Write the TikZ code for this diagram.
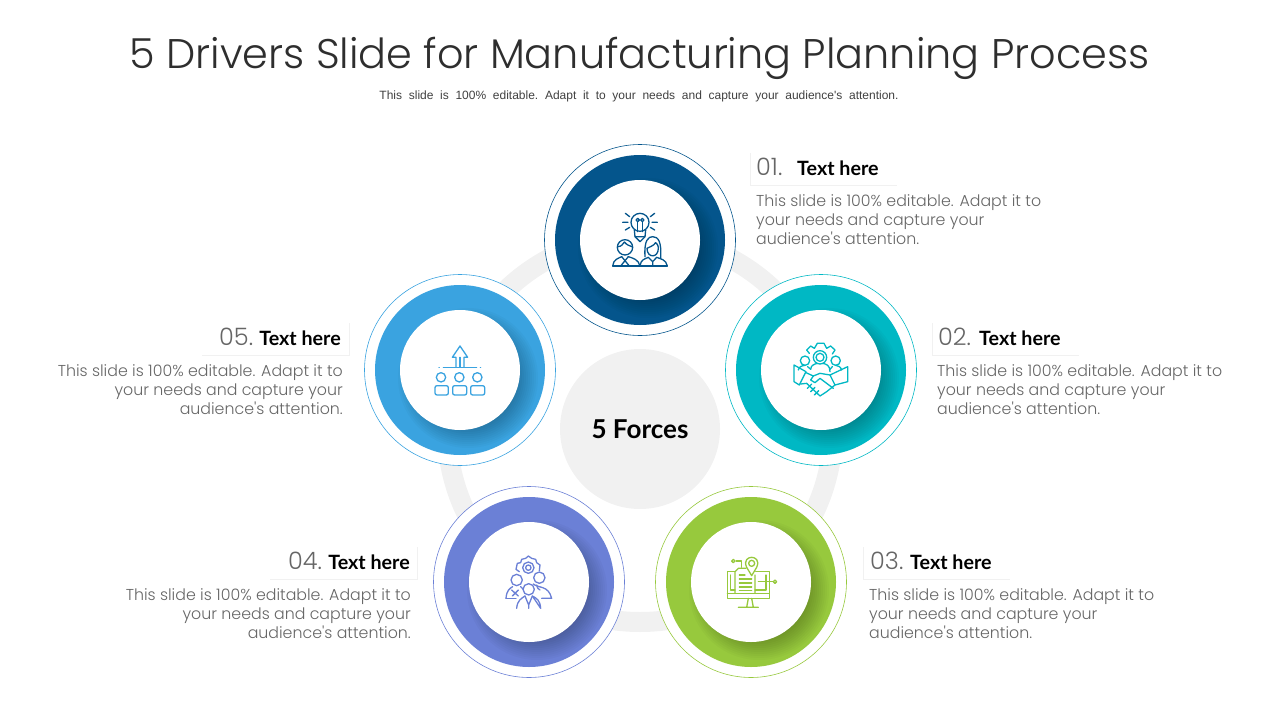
\documentclass[tikz,border=0pt]{standalone}
\usepackage{fontspec}
\setmainfont{Poppins Light}[Ligatures=TeXOff]
\newfontfamily\subfont{Liberation Sans}
\newfontfamily\headfont{Lato}
\newcommand\widewords{\frenchspacing\spaceskip 6.7pt\relax}
\definecolor{navy}{HTML}{04558C}
\definecolor{teal}{HTML}{00B8C4}
\definecolor{leaf}{HTML}{97C93D}
\definecolor{iris}{HTML}{6B80D6}
\definecolor{sky}{HTML}{3AA3E0}
\definecolor{softgrey}{HTML}{F1F1F1}
\definecolor{bodygrey}{HTML}{666666}
\tikzset{
  halo/.style={circle,draw=#1,line width=0.6pt,fill=white,minimum size=191pt,inner sep=0pt},
  band/.style={circle,fill=#1,minimum size=170pt,inner sep=0pt},
  core/.style={circle,fill=white,minimum size=120pt,inner sep=0pt},
  icon/.style={draw=#1,line width=1.3pt,line join=round,line cap=round,fill=none},
  numtext/.style={font=\fontsize{24}{26}\selectfont,text=bodygrey,inner sep=0pt},
  headtext/.style={font=\headfont\bfseries\fontsize{19.7}{22}\selectfont,text=black,inner sep=0pt},
  bodytext/.style={font=\fontsize{15.8}{19.2}\selectfont,text=bodygrey,inner sep=0pt},
  tagbox/.style={draw=softgrey,line width=0.7pt},
}
\begin{document}
\begin{tikzpicture}[x=1pt,y=-1pt]
\useasboundingbox (0,0) rectangle (1280,720);
\node(title) at (639.5,58) [font=\fontsize{41.4}{48}\selectfont,text=black!82] {5 Drivers Slide for Manufacturing Planning Process};
\node(subtitle) at (639,96) [font=\subfont\fontsize{12}{14}\selectfont\widewords,text=black!75] {This slide is 100\% editable. Adapt it to your needs and capture your audience's attention.};
% backdrop
\node(track) at (640,429) [circle,draw=softgrey,line width=20pt,minimum size=386pt,inner sep=0pt] {};
\node(hub) at (640,429) [circle,fill=softgrey,minimum size=160pt,inner sep=0pt,font=\headfont\bfseries\fontsize{26}{28}\selectfont] {5 Forces};
% rings
\node(halo1) at (640,240) [halo=navy] {};
\node(halo2) at (821,370) [halo=teal] {};
\node(halo3) at (751,582) [halo=leaf] {};
\node(halo4) at (529,582) [halo=iris] {};
\node(halo5) at (460,370) [halo=sky] {};
\node(band1) at (640,240) [band=navy] {};
\node(band2) at (821,370) [band=teal] {};
\node(band3) at (751,582) [band=leaf] {};
\node(band4) at (529,582) [band=iris] {};
\node(band5) at (460,370) [band=sky] {};
\foreach \cx/\cy in {640/240,821/370,751/582,529/582,460/370} {
  \begin{scope}
    \clip (\cx,\cy) circle (85);
    \foreach \r in {50,52,...,70} \fill[black,opacity=0.025] (\cx+8,\cy+8) circle (\r);
  \end{scope}
}
\node(core1) at (640,240) [core] {};
\node(core2) at (821,370) [core] {};
\node(core3) at (751,582) [core] {};
\node(core4) at (529,582) [core] {};
\node(core5) at (460,370) [core] {};
% icon 1
\begin{scope}[shift={(590,190)},scale=1/3,icon=navy]
\draw (150,97) circle (27);
\draw (133,120) -- (135,140) -- (165,140) -- (167,120);
\draw (135,140) -- (150,155) -- (165,140);
\draw (143,125) -- (143,95) (157,125) -- (157,95);
\draw (143,90) circle (5) (157,90) circle (5);
\draw (98,97) -- (114,97) (186,97) -- (202,97) (106,70) -- (119,80) (194,70) -- (181,80) (106,120) -- (119,112) (194,120) -- (181,112);
\draw (68,228) -- (232,228);
\draw (68,228) .. controls (70,208) and (85,205) .. (95,200) (115,200) .. controls (130,205) and (145,208) .. (150,228);
\draw (105,172) circle (23);
\draw (84,170) .. controls (95,170) and (100,160) .. (103,156) .. controls (110,165) and (120,168) .. (126,170);
\draw (95,200) -- (105,212) -- (115,200) (105,212) -- (92,228) (105,212) -- (118,228);
\draw (150,228) .. controls (152,208) and (165,207) .. (175,202) (200,202) .. controls (212,207) and (228,208) .. (232,228);
\draw (165,200) .. controls (162,150) and (175,140) .. (188,140) .. controls (205,140) and (215,155) .. (212,205);
\draw (171,175) .. controls (171,205) and (205,205) .. (205,175) .. controls (205,165) and (200,160) .. (197,158) .. controls (190,168) and (180,170) .. (171,175);
\draw (175,202) -- (188,215) -- (200,202) (188,215) -- (188,228);
\end{scope}
% icon 2
\begin{scope}[shift={(770,320)},scale=1/3,icon=teal]
\draw (118,100) -- (110,90) -- (122,78) -- (133,85) -- (142,70) -- (162,70) -- (170,85) -- (182,78) -- (195,90) -- (187,102);
\draw (150,112) circle (20);
\draw (150,112) circle (12);
\draw (122,148) .. controls (122,135) and (135,132) .. (142,130) (158,130) .. controls (168,132) and (180,135) .. (180,155);
\draw (105,122) circle (14) (197,122) circle (14);
\draw (85,150) .. controls (87,140) and (95,137) .. (105,136) (122,148) -- (113,140);
\draw (215,150) .. controls (212,140) and (205,137) .. (197,136) (180,148) -- (187,140);
\draw (72,135) -- (108,155) -- (88,195) -- (72,185) -- cycle;
\draw (233,140) -- (233,185) -- (195,195) -- (180,165) -- cycle;
\draw (108,158) -- (130,168) -- (150,160) -- (180,165);
\draw (92,192) -- (110,190) -- (150,228) -- (170,215) -- (195,195);
\draw (130,168) -- (122,180) -- (135,188) -- (150,175) -- (190,205);
\draw (112,205) -- (125,192) (122,215) -- (135,202) (133,225) -- (146,212);
\end{scope}
% icon 3
\begin{scope}[shift={(700,530)},scale=1/3,icon=leaf]
\draw (105,125) -- (82,125) -- (82,205) -- (208,205) -- (208,125) -- (167,125);
\draw (82,190) -- (208,190);
\draw (92,135) -- (92,180) -- (105,180) (198,135) -- (198,180) -- (165,180);
\draw (145,205) -- (140,232) (155,205) -- (160,232) (115,232) -- (175,232);
\draw (105,190) -- (105,125) -- (115,115) -- (138,115) (165,135) -- (165,190);
\draw (118,135) -- (135,135) (118,147) -- (155,147) (118,159) -- (155,159) (118,171) -- (155,171) (118,182) -- (155,182);
\draw (140,112) .. controls (130,90) and (145,82) .. (155,82) .. controls (165,82) and (180,90) .. (170,112) -- (155,137) -- cycle;
\draw (155,100) circle (9);
\draw (100,93) circle (5);
\draw (108,93) -- (125,93) -- (125,112);
\draw (225,155) circle (5);
\draw (175,155) -- (219,155);
\end{scope}
% icon 4
\begin{scope}[shift={(480,530)},scale=1/3,icon=iris]
\draw (118,125) -- (108,118) -- (112,100) -- (122,98) -- (125,88) -- (137,85) -- (145,78) -- (155,85) -- (167,88) -- (170,98) -- (180,105) -- (178,122);
\draw (145,113) circle (17) (145,113) circle (8);
\draw (110,150) circle (17) (178,143) circle (17) (146,178) circle (17);
\draw (78,205) .. controls (80,180) and (90,175) .. (98,170) (122,170) .. controls (125,172) and (128,175) .. (130,178);
\draw (78,205) -- (108,205);
\draw (95,180) -- (115,198) (115,180) -- (97,198);
\draw (160,162) .. controls (175,175) and (205,165) .. (215,205) -- (185,205);
\draw (170,165) .. controls (172,175) and (176,178) .. (180,180);
\draw (110,235) .. controls (112,210) and (125,205) .. (135,198) (157,198) .. controls (170,205) and (180,210) .. (182,235) -- cycle;
\draw (135,198) -- (146,225) -- (157,198) (146,225) -- (146,235);
\end{scope}
% icon 5
\begin{scope}[shift={(410,320)},scale=1/3,icon=sky]
\draw (150,78) -- (127,112) -- (138,112) -- (138,142) (150,78) -- (173,112) -- (162,112) -- (162,142);
\draw (150,112) -- (150,142);
\draw (100,143) -- (200,143);
\draw (87,143) -- (88,143) (211,143) -- (212,143);
\draw (93,172) circle (14) (148,172) circle (14) (202,172) circle (14);
\draw[rounded corners=2pt] (75,197) rectangle (115,225);
\draw[rounded corners=2pt] (128,197) rectangle (170,225);
\draw[rounded corners=2pt] (182,197) rectangle (224,225);
\end{scope}
% tag boxes
\draw[tagbox] (897,185) -- (750,185) -- (750,153);
\draw[tagbox] (1079,355) -- (932,355) -- (932,323);
\draw[tagbox] (1010,579) -- (863,579) -- (863,547);
\draw[tagbox] (270,579) -- (417,579) -- (417,547);
\draw[tagbox] (202,355) -- (349,355) -- (349,323);
% labels
\node(num1) at (756,175) [numtext,anchor=base west] {01.};
\node(head1) at (797,175) [headtext,anchor=base west] {Text here};
\node(body1) at (756,194) [bodytext,anchor=north west,align=left] {This slide is 100\% editable. Adapt it to\\your needs and capture your\\audience's attention.};
\node(num2) at (938,345) [numtext,anchor=base west] {02.};
\node(head2) at (979,345) [headtext,anchor=base west] {Text here};
\node(body2) at (937,364) [bodytext,anchor=north west,align=left] {This slide is 100\% editable. Adapt it to\\your needs and capture your\\audience's attention.};
\node(num3) at (870,569) [numtext,anchor=base west] {03.};
\node(head3) at (910,569) [headtext,anchor=base west] {Text here};
\node(body3) at (869,588) [bodytext,anchor=north west,align=left] {This slide is 100\% editable. Adapt it to\\your needs and capture your\\audience's attention.};
\node(num4) at (288,569) [numtext,anchor=base west] {04.};
\node(head4) at (410,569) [headtext,anchor=base east] {Text here};
\node(body4) at (411,588) [bodytext,anchor=north east,align=right] {This slide is 100\% editable. Adapt it to\\your needs and capture your\\audience's attention.};
\node(num5) at (219,345) [numtext,anchor=base west] {05.};
\node(head5) at (341,345) [headtext,anchor=base east] {Text here};
\node(body5) at (343,364) [bodytext,anchor=north east,align=right] {This slide is 100\% editable. Adapt it to\\your needs and capture your\\audience's attention.};
\end{tikzpicture}
\end{document}
